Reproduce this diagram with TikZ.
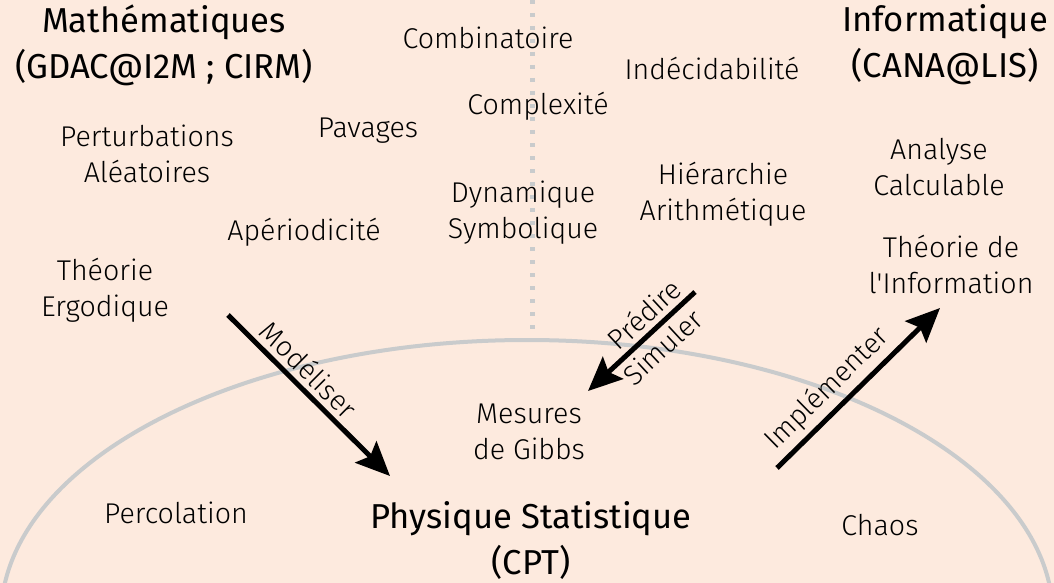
\documentclass[tikz,border=0pt]{standalone}
\usepackage{fontspec}
\setmainfont{Fira Sans}[UprightFont={* Light}]
\newfontfamily\headfont{Fira Sans}
\usetikzlibrary{arrows.meta}
\definecolor{peach}{HTML}{FDEADE}
\definecolor{rim}{HTML}{C9CBCC}

\begin{document}
\begin{tikzpicture}[x=0.5pt, y=-0.5pt,
  topic/.style={font=\fontsize{14.3}{18}\selectfont, align=center, inner sep=0pt},
  field/.style={font=\headfont\fontsize{17.3}{23}\selectfont, align=center, inner sep=0pt},
  link/.style={-{Stealth[length=17pt, width=15pt, inset=3pt]}, line width=2.5pt},
  verb/.style={font=\fontsize{14}{18}\selectfont, sloped, inner sep=2.5pt}]
  \useasboundingbox (0,0) rectangle (1054,583);
  \fill[peach] (0,0) rectangle (1054,583);
  \begin{scope}
    \clip (0,0) rectangle (1054,583);
    \draw[rim, line width=2pt] (527,617) ellipse [x radius=526, y radius=277];
    \draw[rim, line width=2.5pt, dash pattern=on 2pt off 4.5pt] (532,0) -- (532,338);
  \end{scope}

  \node[field] (math) at (164,45) {Mathématiques\\(GDAC@I2M ; CIRM)};
  \node[field] (info) at (945,45) {Informatique\\(CANA@LIS)};
  \node[field] (phys) at (531,541) {Physique Statistique\\(CPT)};

  \node[topic] (comb) at (488,38) {Combinatoire};
  \node[topic] (indec) at (712,68) {Indécidabilité};
  \node[topic] (compl) at (538,106) {Complexité};
  \node[topic] (pav) at (368,131) {Pavages};
  \node[topic] (pert) at (147,154) {Perturbations\\Aléatoires};
  \node[topic] (anal) at (939,167) {Analyse\\Calculable};
  \node[topic] (hier) at (723,194) {Hiérarchie\\Arithmétique};
  \node[topic] (dyn) at (523,213) {Dynamique\\Symbolique};
  \node[topic] (aper) at (304,232) {Apériodicité};
  \node[topic] (theo) at (951,264) {Théorie de\\l\textquotesingle Information};
  \node[topic] (ergo) at (105,290) {Théorie\\Ergodique};
  \node[topic] (gibbs) at (529,432) {Mesures\\de Gibbs};
  \node[topic] (perc) at (176,513) {Percolation};
  \node[topic] (chaos) at (880,525) {Chaos};

  \coordinate (m0) at (228,315);
  \coordinate (m1) at (390,476);
  \coordinate (p0) at (695,292);
  \coordinate (p1) at (588,391);
  \coordinate (i0) at (777,468);
  \coordinate (i1) at (940,308);

  \path[link]
  (m0) edge node[verb, above, pos=.42] {Modéliser} (m1)
  (p0) edge node[verb, above, pos=.36] {Prédire}
            node[verb, below, pos=.42] {Simuler} (p1)
  (i0) edge node[verb, above, pos=.4] {Implémenter} (i1)
  ;
\end{tikzpicture}
\end{document}
